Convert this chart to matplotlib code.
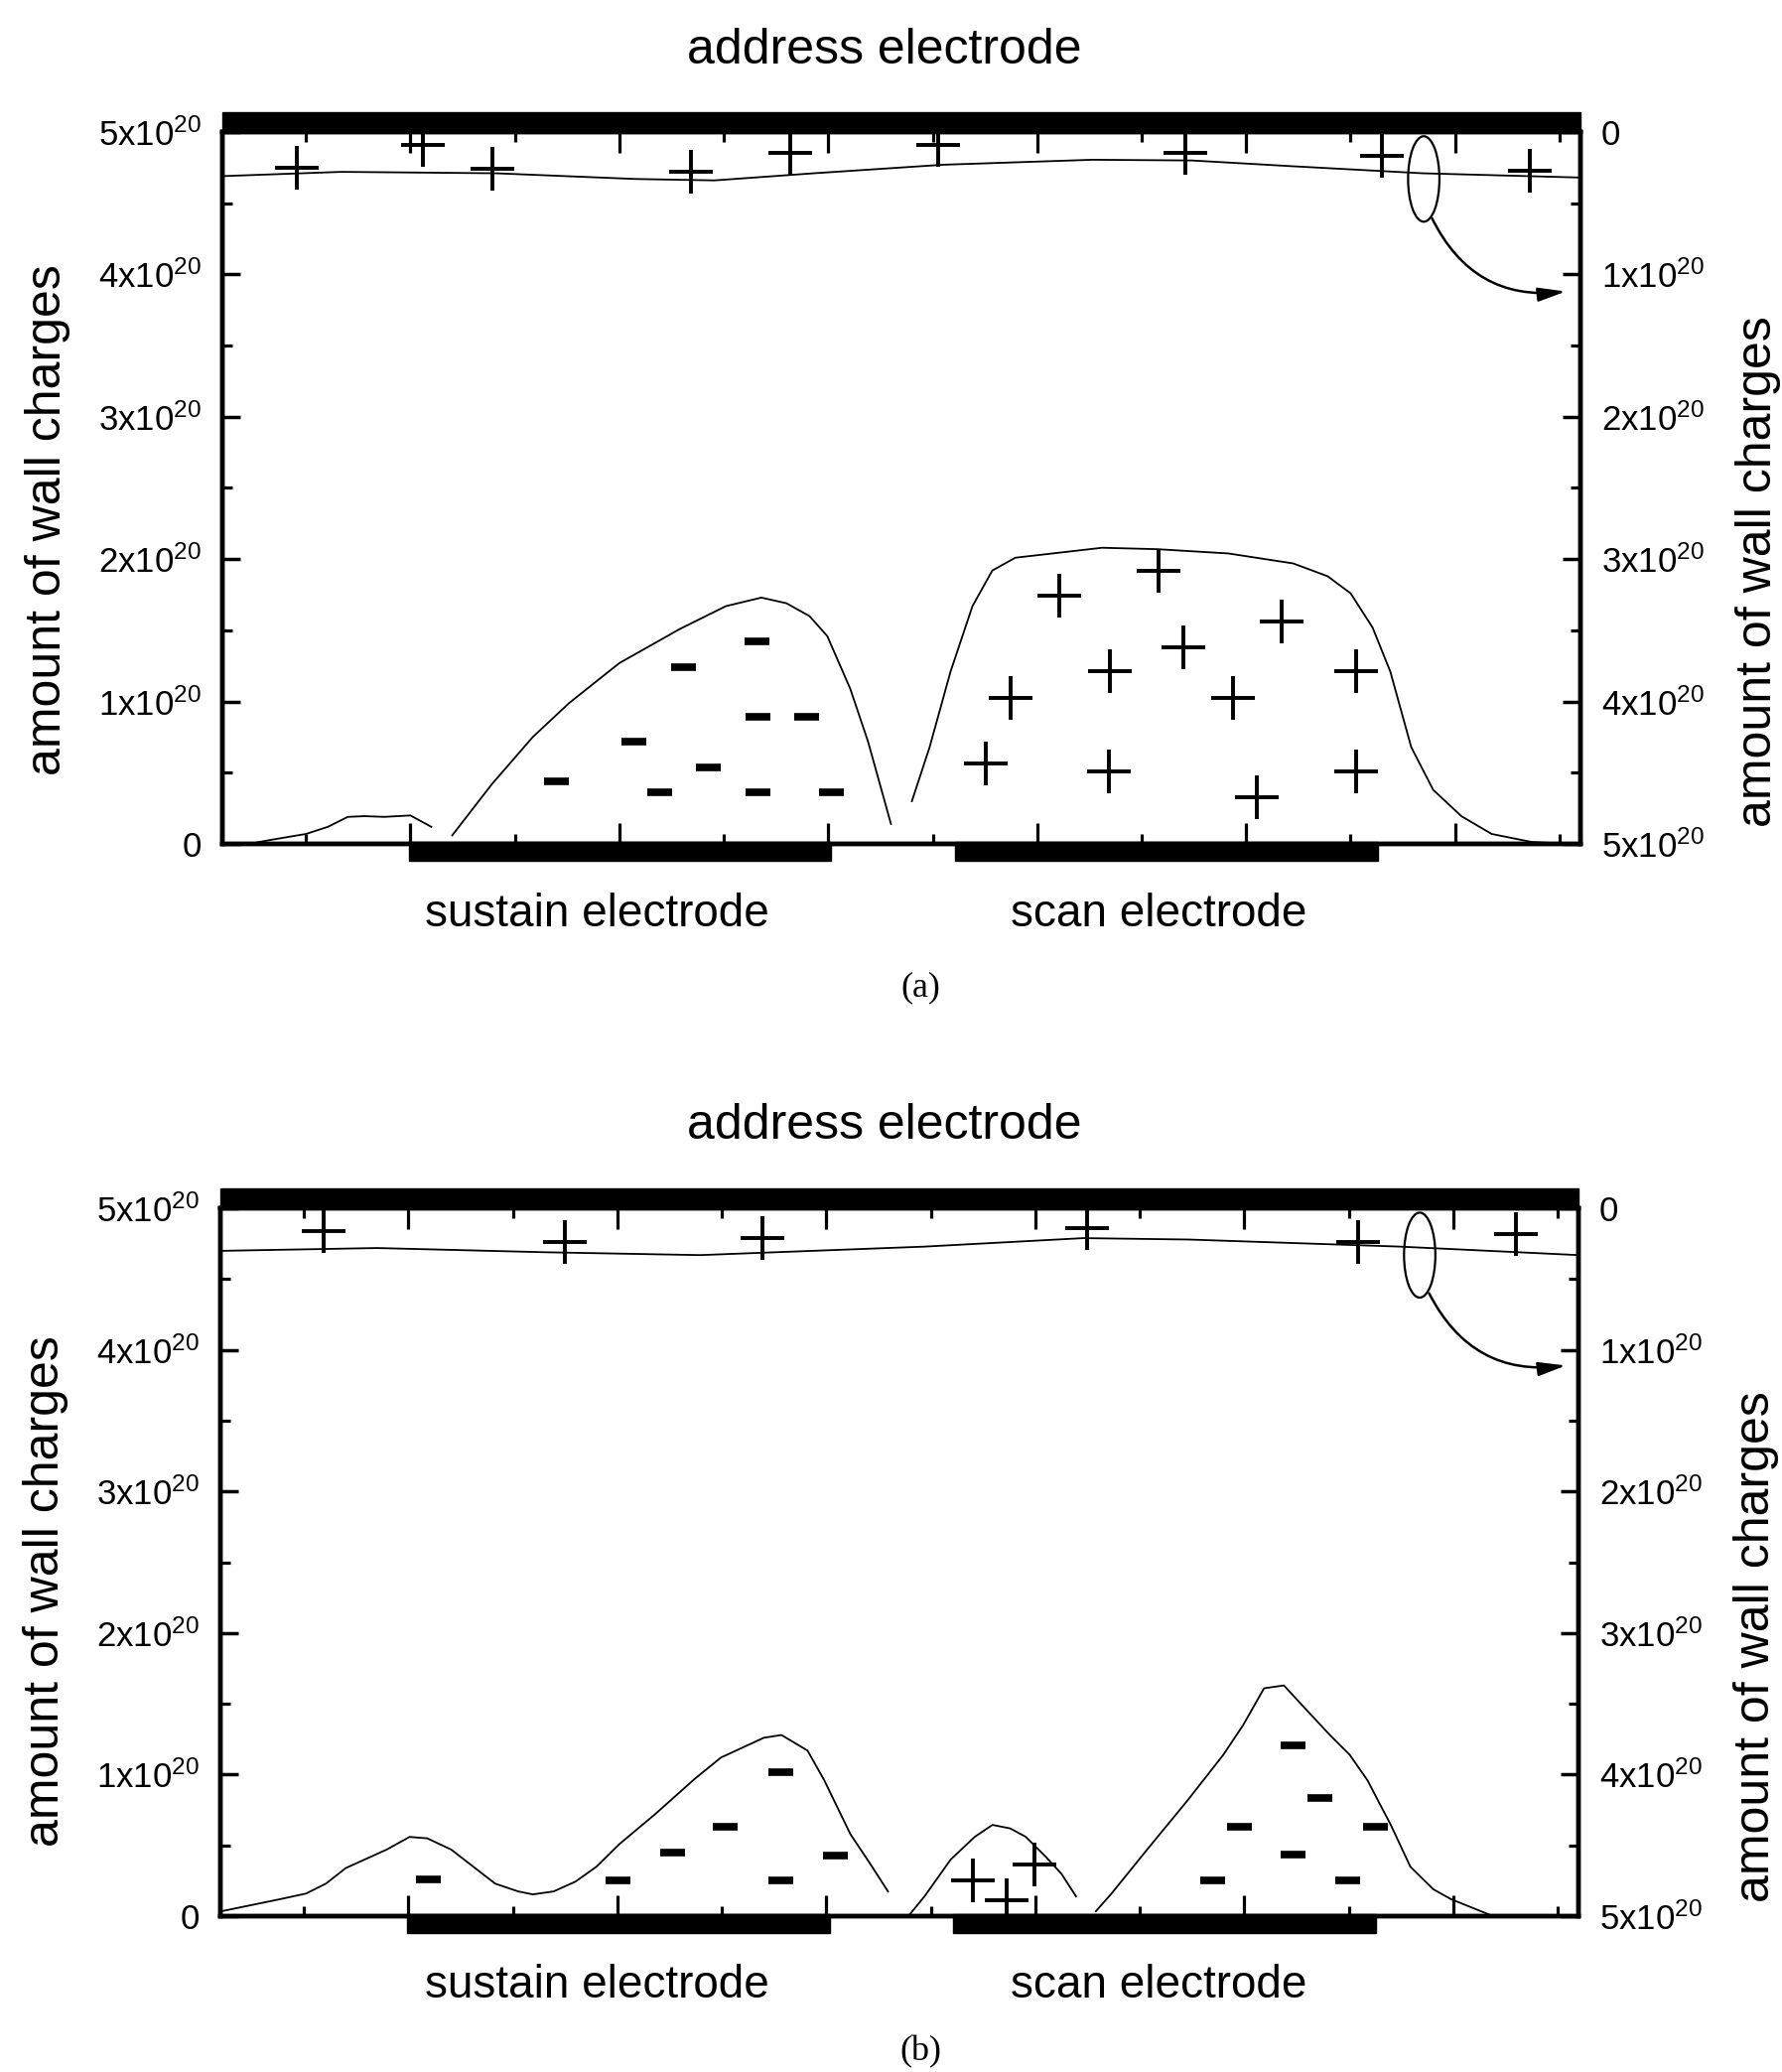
import matplotlib
matplotlib.use('Agg')
import matplotlib.pyplot as plt
from matplotlib.patches import Ellipse, Rectangle
from matplotlib.ticker import FixedLocator

plt.rcParams['font.family'] = ['Liberation Sans', 'DejaVu Sans']
plt.rcParams['mathtext.fontset'] = 'custom'
plt.rcParams['mathtext.rm'] = 'Liberation Sans'

# x: position along the cell (arb. units), y: wall charges in units of 1e20

xticks_major = [180, 380, 580, 780, 980, 1180]
xticks_minor = [80, 280, 480, 680, 880, 1080, 1280]
yticks = [0, 1, 2, 3, 4, 5]
yticklabels_left = ['0', r'$\mathregular{1x10^{20}}$', r'$\mathregular{2x10^{20}}$',
                    r'$\mathregular{3x10^{20}}$', r'$\mathregular{4x10^{20}}$',
                    r'$\mathregular{5x10^{20}}$']
yticklabels_right = yticklabels_left  # right axis is inverted (0 at top)

sustain_span = (179, 583)
scan_span = (701, 1106)

# ---- panel (a) ----
a_top_x = [0, 114, 262, 395, 471, 566, 690, 833, 928, 1023, 1149, 1300]
a_top_y = [0.31, 0.28, 0.29, 0.33, 0.34, 0.29, 0.23, 0.195, 0.20, 0.24, 0.29, 0.32]
a_plus_top_x = [71, 192, 258, 449, 544, 685, 922, 1110, 1252]
a_plus_top_y = [0.25, 0.09, 0.26, 0.28, 0.15, 0.09, 0.15, 0.17, 0.27]

a_bump_x = [25, 46, 80, 101, 120, 136, 155, 180, 200]
a_bump_y = [0.0, 0.028, 0.07, 0.12, 0.19, 0.195, 0.19, 0.20, 0.12]
a_sus_x = [220, 258, 297, 332, 380, 438, 482, 516, 540, 562, 579, 601, 618, 640]
a_sus_y = [0.06, 0.42, 0.75, 0.99, 1.27, 1.51, 1.67, 1.73, 1.69, 1.60, 1.46, 1.09, 0.72, 0.14]
a_scan_x = [660, 677, 697, 718, 737, 759, 842, 895, 963, 1025, 1058, 1080, 1101,
            1118, 1138, 1159, 1186, 1215, 1253, 1273, 1300]
a_scan_y = [0.30, 0.68, 1.21, 1.67, 1.92, 2.01, 2.08, 2.07, 2.04, 1.97, 1.88, 1.76, 1.52,
            1.21, 0.68, 0.38, 0.195, 0.07, 0.014, 0.007, 0.0]

a_minus_x = [319, 393, 418, 441, 465, 511, 512, 559, 512, 583]
a_minus_y = [0.44, 0.72, 0.36, 1.24, 0.54, 1.42, 0.89, 0.89, 0.36, 0.36]
a_plus_x = [731, 755, 801, 850, 849, 896, 920, 967, 990, 1014, 1085, 1085]
a_plus_y = [0.565, 1.025, 1.74, 1.21, 0.51, 1.92, 1.38, 1.025, 0.33, 1.56, 1.21, 0.51]

# ---- panel (b) ----
b_top_x = [0, 150, 312, 459, 674, 826, 927, 1129, 1300]
b_top_y = [0.30, 0.28, 0.31, 0.33, 0.27, 0.21, 0.22, 0.27, 0.33]
b_plus_top_x = [99, 330, 519, 830, 1089, 1240]
b_plus_top_y = [0.16, 0.24, 0.21, 0.14, 0.24, 0.18]

b_sus_x = [1, 57, 82, 101, 120, 159, 181, 198, 221, 263, 285, 299, 319, 340, 360, 382,
           416, 454, 479, 520, 537, 562, 578, 603, 622, 639]
b_sus_y = [0.035, 0.12, 0.16, 0.23, 0.34, 0.47, 0.56, 0.55, 0.47, 0.23, 0.175, 0.154,
           0.175, 0.245, 0.35, 0.51, 0.72, 0.97, 1.12, 1.26, 1.28, 1.17, 0.96, 0.58,
           0.37, 0.175]
b_hump_x = [660, 674, 699, 722, 739, 756, 771, 790, 805, 819]
b_hump_y = [0.014, 0.14, 0.40, 0.56, 0.645, 0.62, 0.56, 0.42, 0.30, 0.14]
b_scan_x = [838, 853, 887, 926, 960, 979, 999, 1018, 1038, 1062, 1081, 1098, 1110,
            1120, 1139, 1161, 1178, 1216, 1300]
b_scan_y = [0.035, 0.16, 0.47, 0.82, 1.14, 1.35, 1.61, 1.63, 1.47, 1.28, 1.14, 0.96,
            0.79, 0.65, 0.35, 0.19, 0.12, 0.007, 0.0]

b_minus_x = [199, 380, 432, 483, 536, 536, 588, 949, 975, 1026, 1026, 1052, 1079, 1105]
b_minus_y = [0.26, 0.25, 0.45, 0.63, 1.02, 0.25, 0.43, 0.25, 0.63, 1.21, 0.435, 0.835,
             0.25, 0.63]
b_plus_x = [720, 753, 779]
b_plus_y = [0.25, 0.11, 0.365]

fig = plt.figure(figsize=(17.95, 20.87), dpi=100)


def draw_panel(rect, top_x, top_y, ptop_x, ptop_y, segments, mx, my, px, py,
               ell_xy, arr_from, arr_to):
    ax = fig.add_axes(rect)
    ax.set_xlim(0, 1300)
    ax.set_ylim(0, 5)
    axr = ax.twinx()
    axr.set_ylim(5, 0)

    for a in (ax, axr):
        for s in a.spines.values():
            s.set_linewidth(3.2)

    ax.xaxis.set_major_locator(FixedLocator(xticks_major))
    ax.xaxis.set_minor_locator(FixedLocator(xticks_minor))
    ax.set_xticklabels([])
    ax.tick_params(axis='x', which='major', direction='in', length=15, width=2.3,
                   top=True, bottom=True, labelbottom=False)
    ax.tick_params(axis='x', which='minor', direction='in', length=7, width=2.3,
                   top=True, bottom=True)

    for a, labels in ((ax, yticklabels_left), (axr, yticklabels_right)):
        a.yaxis.set_major_locator(FixedLocator(yticks))
        a.yaxis.set_minor_locator(FixedLocator([v + 0.5 for v in yticks[:-1]]))
        a.set_yticklabels(labels)
        a.tick_params(axis='y', which='major', direction='in', length=13, width=2.5,
                      labelsize=25, pad=15)
        a.tick_params(axis='y', which='minor', direction='in', length=7, width=2.3)
    ax.tick_params(axis='y', which='both', right=False)

    # address electrode bar on top, sustain/scan bars at bottom
    trans = ax.get_xaxis_transform()
    ax.add_patch(Rectangle((0, 1.0), 1300, 0.028, transform=trans, color='k',
                           clip_on=False, zorder=5))
    for x0, x1 in (sustain_span, scan_span):
        ax.add_patch(Rectangle((x0, -0.024), x1 - x0, 0.027, transform=trans,
                               color='k', clip_on=False, zorder=5))

    # wall charges on the address side (right axis)
    axr.plot(top_x, top_y, color='k', lw=1.3)
    axr.plot(ptop_x, ptop_y, ls='none', marker='+', ms=31, mew=2.8, color='k')

    for sx, sy in segments:
        ax.plot(sx, sy, color='k', lw=1.3)
    ax.plot(mx, my, ls='none', marker='_', ms=18, mew=5.5, color='k')
    ax.plot(px, py, ls='none', marker='+', ms=31, mew=2.8, color='k')

    axr.add_patch(Ellipse(ell_xy, width=30, height=0.6, fill=False, lw=1.6,
                          color='k'))
    axr.annotate('', xy=arr_to, xytext=arr_from,
                 arrowprops=dict(arrowstyle='-|>,head_length=0.6,head_width=0.15',
                                 connectionstyle='arc3,rad=0.35', lw=1.8,
                                 color='k', mutation_scale=28,
                                 shrinkA=0, shrinkB=0))
    return ax, axr


ax_a, axr_a = draw_panel([0.1248, 0.5927, 0.7621, 0.3436],
                         a_top_x, a_top_y, a_plus_top_x, a_plus_top_y,
                         [(a_bump_x, a_bump_y), (a_sus_x, a_sus_y), (a_scan_x, a_scan_y)],
                         a_minus_x, a_minus_y, a_plus_x, a_plus_y,
                         (1150, 0.33), (1158, 0.607), (1286, 1.12))
ax_b, axr_b = draw_panel([0.1237, 0.0752, 0.7621, 0.3416],
                         b_top_x, b_top_y, b_plus_top_x, b_plus_top_y,
                         [(b_sus_x, b_sus_y), (b_hump_x, b_hump_y), (b_scan_x, b_scan_y)],
                         b_minus_x, b_minus_y, b_plus_x, b_plus_y,
                         (1148, 0.33), (1157, 0.60), (1288, 1.11))

for ax, yl, yr in ((ax_a, 0.455, 0.383), (ax_b, 0.459, 0.381)):
    ax.text(-0.129, yl, 'amount of wall charges', transform=ax.transAxes,
            rotation=90, ha='center', va='center', fontsize=36)
    ax.text(1.131, yr, 'amount of wall charges', transform=ax.transAxes,
            rotation=90, ha='center', va='center', fontsize=36)

fig.text(0.4964, 0.9756, 'address electrode', ha='center', va='center', fontsize=36)
fig.text(0.4964, 0.4566, 'address electrode', ha='center', va='center', fontsize=36)
for y in (0.5587, 0.0417):
    fig.text(0.335, y, 'sustain electrode', ha='center', va='center', fontsize=33)
    fig.text(0.650, y, 'scan electrode', ha='center', va='center', fontsize=33)
fig.text(0.5164, 0.5232, '(a)', ha='center', va='center', fontsize=26,
         family='Liberation Serif')
fig.text(0.5164, 0.0095, '(b)', ha='center', va='center', fontsize=26,
         family='Liberation Serif')

fig.savefig('out.png', dpi=100, facecolor='white')
